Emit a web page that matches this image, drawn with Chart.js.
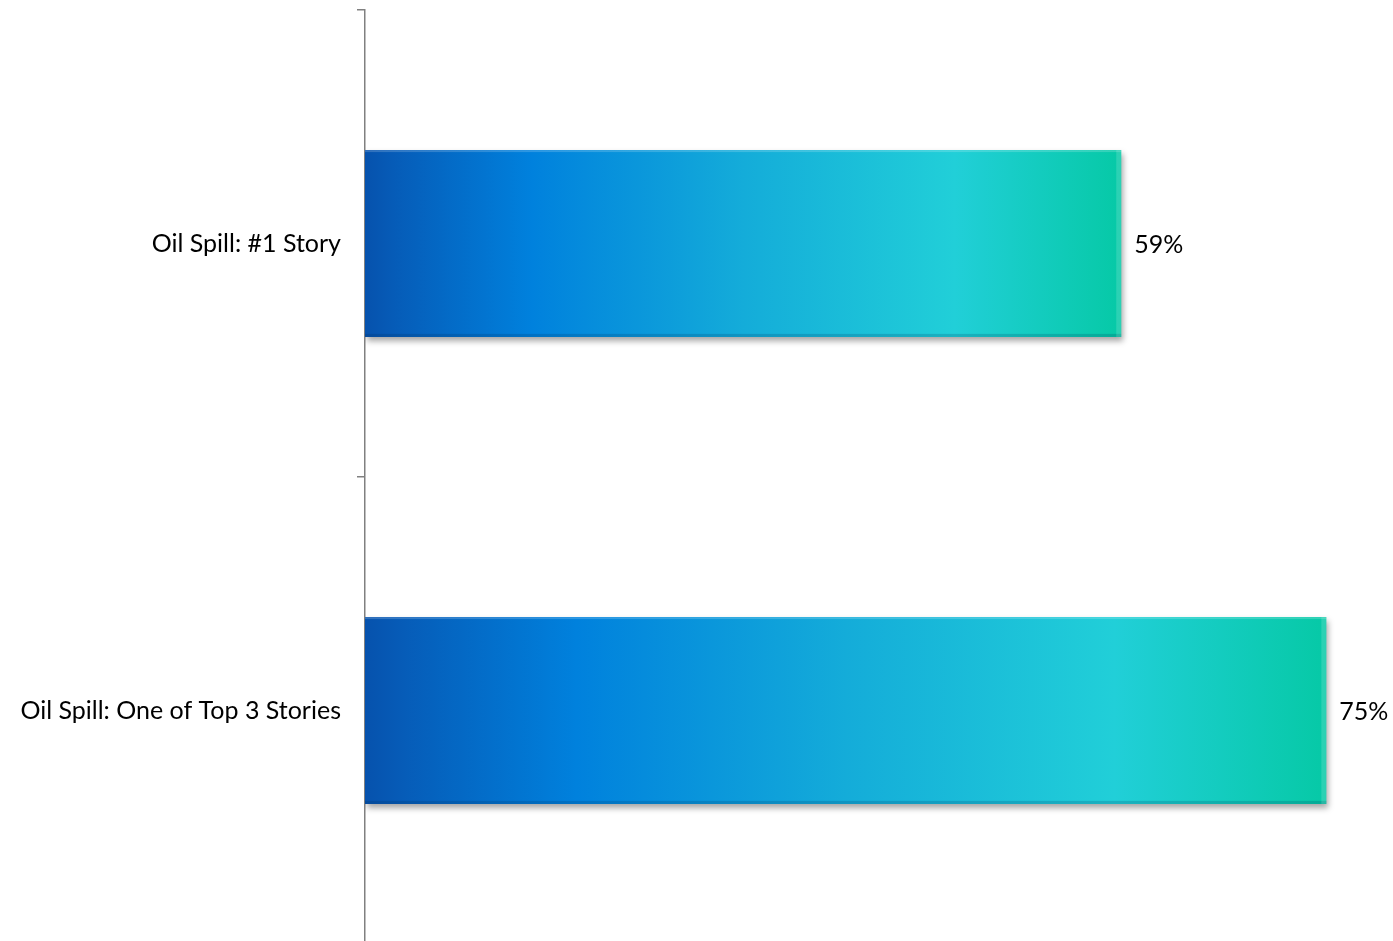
<!DOCTYPE html>
<html>
<head>
<meta charset="utf-8">
<script src="https://cdn.jsdelivr.net/npm/chart.js@4.4.1/dist/chart.umd.min.js"></script>
<style>
    html, body { margin: 0; padding: 0; background: #ffffff; overflow: hidden; }
    #wrap { width: 1393px; height: 944px; }
</style>
</head>
<body>
<div id="wrap"><canvas id="spillChart" width="1393" height="944"></canvas></div>
<script>
// Chart data
const categories = ['Oil Spill: #1 Story', 'Oil Spill: One of Top 3 Stories'];
const shares = [59, 75];
const axisMax = 80.2;

const labelFont = { family: 'Lato, "Open Sans", sans-serif', size: 25 };

// Build a left-to-right gradient that spans each bar on its own
function barGradient(context) {
    const chart = context.chart;
    const xScale = chart.scales.x;
    if (!xScale || context.dataIndex === undefined) return '#0a80d8';
    const x0 = xScale.getPixelForValue(0);
    const x1 = xScale.getPixelForValue(shares[context.dataIndex]);
    if (!isFinite(x0) || !isFinite(x1)) return '#0a80d8'; // scales not laid out yet
    const g = chart.ctx.createLinearGradient(x0, 0, x1, 0);
    g.addColorStop(0, '#0652ad');
    g.addColorStop(0.04, '#065cb8');
    g.addColorStop(0.22, '#0081dd');
    g.addColorStop(0.5, '#14acd9');
    g.addColorStop(0.78, '#21cfd8');
    g.addColorStop(1, '#06c9a6');
    return g;
}

// Soft drop shadow under the bars
const barShadow = {
    id: 'barShadow',
    beforeDatasetsDraw(chart) {
        const ctx = chart.ctx;
        ctx.save();
        ctx.shadowColor = 'rgba(0, 0, 0, 0.35)';
        ctx.shadowBlur = 6;
        ctx.shadowOffsetX = 2;
        ctx.shadowOffsetY = 4;
    },
    afterDatasetsDraw(chart) {
        chart.ctx.restore();
        // light top edge and darker bottom edge to hint at the bevel
        const ctx = chart.ctx;
        chart.getDatasetMeta(0).data.forEach(bar => {
            const top = bar.y - bar.height / 2;
            const bottom = bar.y + bar.height / 2;
            ctx.save();
            ctx.fillStyle = 'rgba(255, 255, 255, 0.18)';
            ctx.fillRect(bar.base, top, bar.x - bar.base, 2);
            ctx.fillStyle = 'rgba(0, 40, 80, 0.18)';
            ctx.fillRect(bar.base, bottom - 3, bar.x - bar.base, 3);
            ctx.fillStyle = 'rgba(255, 255, 255, 0.15)';
            ctx.fillRect(bar.x - 5, top, 5, bar.height);
            ctx.restore();
        });
    }
};

// Percent labels at the end of each bar
const valueLabels = {
    id: 'valueLabels',
    afterDatasetsDraw(chart) {
        const ctx = chart.ctx;
        ctx.save();
        ctx.font = labelFont.size + 'px ' + labelFont.family;
        ctx.fillStyle = '#000000';
        ctx.textAlign = 'left';
        ctx.textBaseline = 'middle';
        chart.getDatasetMeta(0).data.forEach((bar, i) => {
            ctx.fillText(shares[i] + '%', bar.x + 13, bar.y + 1);
        });
        ctx.restore();
    }
};

const chart = new Chart(document.getElementById('spillChart'), {
    type: 'bar',
    data: {
        labels: categories,
        datasets: [{
            data: shares,
            backgroundColor: barGradient,
            borderWidth: 0,
            categoryPercentage: 1.0,
            barPercentage: 0.4
        }]
    },
    options: {
        indexAxis: 'y',
        responsive: false,
        animation: false,
        layout: { padding: { top: 10, right: 0, bottom: 0, left: 0 } },
        plugins: {
            legend: { display: false },
            tooltip: { enabled: false }
        },
        scales: {
            x: {
                display: false,
                min: 0,
                max: axisMax
            },
            y: {
                // pin the axis line at x=365 and drop the label overhang
                afterFit(scale) {
                    scale.width = 365;
                    scale.paddingTop = 0;
                    scale.paddingBottom = 0;
                },
                border: { display: true, color: '#808080', width: 1.5 },
                grid: {
                    drawOnChartArea: false,
                    drawTicks: true,
                    tickLength: 8,
                    lineWidth: 1.5,
                    color: '#808080',
                    offset: true
                },
                ticks: {
                    color: '#000000',
                    padding: 16,
                    font: labelFont
                }
            }
        }
    },
    plugins: [barShadow, valueLabels]
});

// second pass so the gradients use the laid-out scale
chart.update();
</script>
</body>
</html>
